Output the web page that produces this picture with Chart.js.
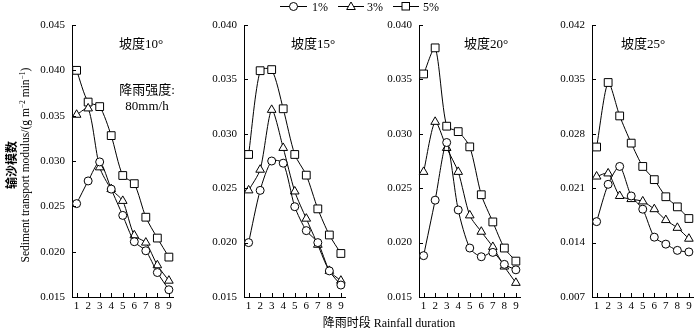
<!DOCTYPE html>
<html><head><meta charset="utf-8">
<script src="https://cdn.jsdelivr.net/npm/chart.js@4"></script>
<style>
html,body{margin:0;padding:0;background:#fff;}
body{width:700px;height:330px;position:relative;overflow:hidden;font-family:'Liberation Serif','Noto Sans CJK SC',serif;color:#000;}
canvas{position:absolute;top:0;}
.t{position:absolute;white-space:nowrap;font-size:12px;line-height:1;transform:translate(-50%,-50%);}
#ytitle{position:absolute;left:19px;top:165px;width:220px;height:26px;transform:translate(-50%,-50%) rotate(-90deg);text-align:center;}
#ytitle div{white-space:nowrap;height:13px;line-height:13px;}
sup{font-size:7.5px;position:relative;top:-4px;vertical-align:baseline;line-height:0;}
</style></head><body>
<canvas id="c1" width="158" height="330" style="left:22px"></canvas>
<canvas id="c2" width="158" height="330" style="left:194px"></canvas>
<canvas id="c3" width="158" height="330" style="left:369px"></canvas>
<canvas id="c4" width="158" height="330" style="left:542px"></canvas>

<svg width="700" height="20" style="position:absolute;left:0;top:0" xmlns="http://www.w3.org/2000/svg">
  <g stroke="#000" stroke-width="1" fill="#fff">
    <line x1="280" y1="6.5" x2="307" y2="6.5"/>
    <circle cx="293.5" cy="6.5" r="4"/>
    <line x1="338" y1="6.5" x2="364" y2="6.5"/>
    <polygon points="351,2 355.3,9.5 346.7,9.5"/>
    <line x1="393" y1="6.5" x2="419" y2="6.5"/>
    <rect x="402" y="2.5" width="7.5" height="7.5"/>
  </g>
</svg>
<div class="t" style="left:320px;top:7px;">1%</div>
<div class="t" style="left:375px;top:7px;">3%</div>
<div class="t" style="left:431px;top:7px;">5%</div>

<div class="t" style="left:141px;top:43px;font-size:13px;">坡度10°</div>
<div class="t" style="left:147px;top:89px;font-size:13px;">降雨强度:</div>
<div class="t" style="left:147px;top:105px;font-size:13px;">80mm/h</div>
<div class="t" style="left:313px;top:43px;font-size:13px;">坡度15°</div>
<div class="t" style="left:486px;top:43px;font-size:13px;">坡度20°</div>
<div class="t" style="left:643px;top:43px;font-size:13px;">坡度25°</div>

<div id="ytitle">
  <div style="font-size:12px;font-weight:bold;">输沙模数</div>
  <div style="font-size:11.5px;">Sediment transport modulus/(g m<sup>−2</sup> min<sup>−1</sup>)</div>
</div>
<div class="t" style="left:389px;top:323px;font-size:12px;">降雨时段 Rainfall duration</div>

<script>
// Rainfall duration periods (x categories)
const durations = [1, 2, 3, 4, 5, 6, 7, 8, 9];
const seriesLabels = ['1%', '3%', '5%'];

// Slope 10°
const slope10_1 = [0.0253, 0.0278, 0.0299, 0.0269, 0.0240, 0.0211, 0.0201, 0.0177, 0.0158];
const slope10_3 = [0.0351, 0.0358, 0.0293, 0.0269, 0.0256, 0.0218, 0.0210, 0.0185, 0.0168];
const slope10_5 = [0.0400, 0.0365, 0.0360, 0.0328, 0.0284, 0.0275, 0.0238, 0.0215, 0.0194];
// Slope 15°
const slope15_1 = [0.0200, 0.0248, 0.0275, 0.0273, 0.0233, 0.0211, 0.0200, 0.0174, 0.0161];
const slope15_3 = [0.0248, 0.0267, 0.0322, 0.0287, 0.0247, 0.0222, 0.0198, 0.0174, 0.0165];
const slope15_5 = [0.0281, 0.0358, 0.0359, 0.0323, 0.0281, 0.0262, 0.0231, 0.0207, 0.0190];
// Slope 20°
const slope20_1 = [0.0188, 0.0239, 0.0292, 0.0230, 0.0195, 0.0187, 0.0191, 0.0180, 0.0175];
const slope20_3 = [0.0265, 0.0311, 0.0287, 0.0265, 0.0225, 0.0210, 0.0196, 0.0178, 0.0163];
const slope20_5 = [0.0355, 0.0379, 0.0307, 0.0302, 0.0288, 0.0244, 0.0219, 0.0195, 0.0183];
// Slope 25°
const slope25_1 = [0.0167, 0.0215, 0.0238, 0.0200, 0.0183, 0.0147, 0.0138, 0.0130, 0.0128];
const slope25_3 = [0.0225, 0.0229, 0.0200, 0.0196, 0.0193, 0.0183, 0.0169, 0.0159, 0.0145];
const slope25_5 = [0.0263, 0.0346, 0.0303, 0.0268, 0.0238, 0.0221, 0.0199, 0.0186, 0.0171];

// Y tick labels per panel
const yTicks10 = [0.015, 0.020, 0.025, 0.030, 0.035, 0.040, 0.045];
const yTicks15 = [0.015, 0.020, 0.025, 0.030, 0.035, 0.040];
const yTicks20 = [0.015, 0.020, 0.025, 0.030, 0.035, 0.040];
const yTicks25 = [0.007, 0.014, 0.021, 0.028, 0.035, 0.042];

const inwardTicks = {
  id: 'inwardTicks',
  afterDraw(chart) {
    const ctx = chart.ctx, a = chart.chartArea, xs = chart.scales.x, ys = chart.scales.y;
    ctx.save();
    ctx.strokeStyle = '#000'; ctx.lineWidth = 1;
    ctx.beginPath();
    ys.ticks.forEach(t => { const py = Math.round(ys.getPixelForValue(t.value)) + 0.5; ctx.moveTo(a.left, py); ctx.lineTo(a.left + 4, py); });
    xs.ticks.forEach(t => { const px = Math.round(xs.getPixelForValue(t.value)) + 0.5; ctx.moveTo(px, a.bottom); ctx.lineTo(px, a.bottom - 4); });
    ctx.stroke();
    ctx.restore();
  }
};

function ds(label, values, style, r) {
  return {
    label,
    data: values.map((v, i) => ({ x: durations[i], y: v })),
    borderColor: '#000', borderWidth: 1,
    pointStyle: style, pointRadius: r, pointHoverRadius: r,
    pointBackgroundColor: '#fff', pointBorderColor: '#000', pointBorderWidth: 1,
    tension: 0.25, fill: false, clip: false
  };
}

const tickFont = { family: "'Liberation Serif', serif", size: 11 };

function panel(id, s1, s3, s5, yTicks) {
  new Chart(document.getElementById(id), {
    type: 'line',
    data: {
      datasets: [
        ds(seriesLabels[0], s1, 'circle', 4),
        ds(seriesLabels[1], s3, 'triangle', 5),
        ds(seriesLabels[2], s5, 'rect', 5.5)
      ]
    },
    options: {
      responsive: false, animation: false,
      layout: { padding: { top: 25, left: 0, right: 2, bottom: 0 } },
      plugins: { legend: { display: false }, tooltip: { enabled: false } },
      scales: {
        x: {
          type: 'linear', min: 0.6, max: 9.4,
          afterBuildTicks: s => { s.ticks = durations.map(v => ({ value: v })); },
          afterFit: s => { s.height = 33; },
          grid: { display: false, drawTicks: false },
          border: { display: true, color: '#000', width: 1 },
          ticks: { color: '#000', font: tickFont, padding: 3, maxRotation: 0, autoSkip: false, callback: v => String(v) }
        },
        y: {
          type: 'linear', min: yTicks[0], max: yTicks[yTicks.length - 1],
          afterBuildTicks: s => { s.ticks = yTicks.map(v => ({ value: v })); },
          afterFit: s => { s.width = 50; },
          grid: { display: false, drawTicks: false },
          border: { display: true, color: '#000', width: 1 },
          ticks: { color: '#000', font: tickFont, padding: 7, autoSkip: false, callback: v => Number(v).toFixed(3) }
        }
      }
    },
    plugins: [inwardTicks]
  });
}

panel('c1', slope10_1, slope10_3, slope10_5, yTicks10);
panel('c2', slope15_1, slope15_3, slope15_5, yTicks15);
panel('c3', slope20_1, slope20_3, slope20_5, yTicks20);
panel('c4', slope25_1, slope25_3, slope25_5, yTicks25);
</script>
</body></html>
